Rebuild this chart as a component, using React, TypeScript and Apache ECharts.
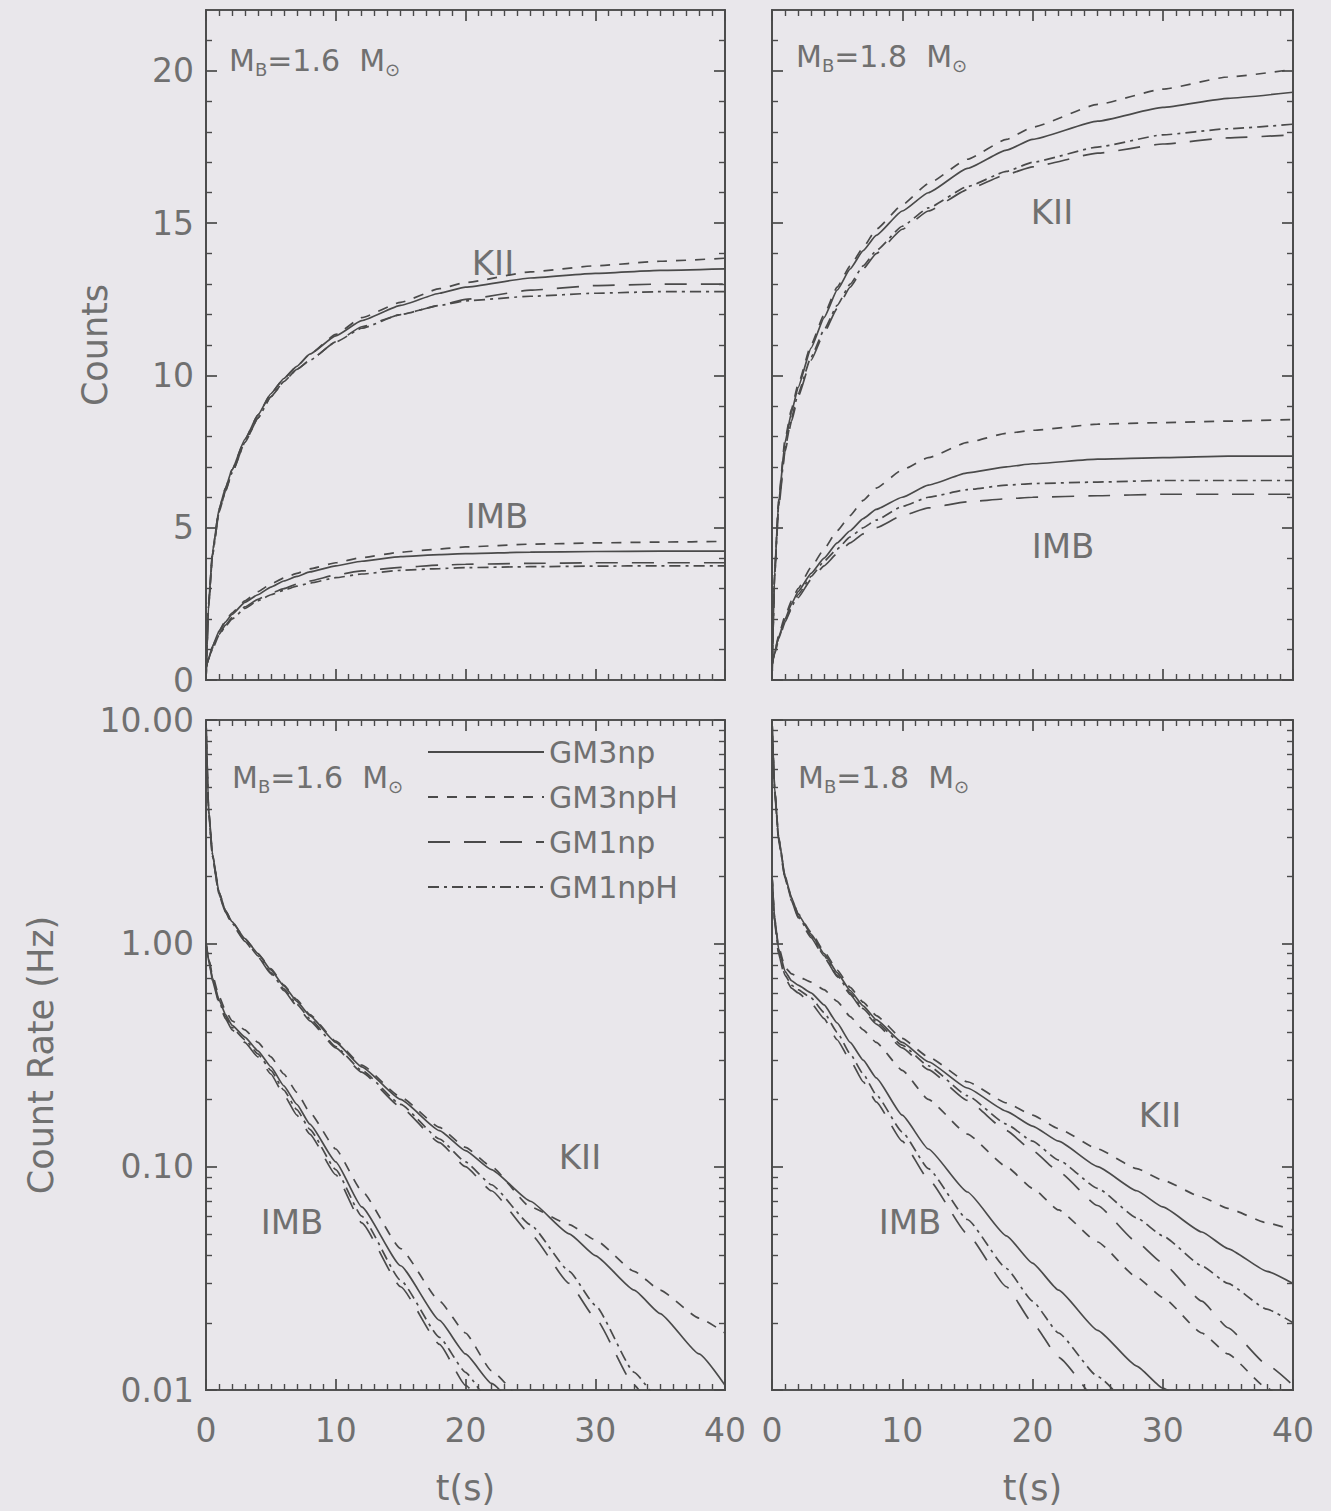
import React, { useEffect, useRef } from "react";
import * as echarts from "echarts";

// ---- time samples (s) ----
const T_COUNTS = [0, 0.2, 0.5, 1, 1.5, 2, 3, 4, 5, 6, 7, 8, 10, 12, 15, 18, 20, 25, 30, 35, 40];
const T_RATE = [0, 0.2, 0.5, 1, 1.5, 2, 3, 4, 5, 6, 7, 8, 10, 12, 15, 18, 20, 22, 25, 28, 30, 33, 35, 38, 40];

const MODELS = ["GM3np", "GM3npH", "GM1np", "GM1npH"];

// ---- cumulative counts, M_B = 1.6 ----
const KII16_GM3np = [0, 2.5, 4.2, 5.6, 6.3, 6.9, 7.9, 8.7, 9.4, 9.9, 10.3, 10.7, 11.3, 11.8, 12.3, 12.7, 12.9, 13.2, 13.35, 13.45, 13.5];
const KII16_GM3npH = [0, 2.5, 4.2, 5.6, 6.3, 6.9, 7.9, 8.7, 9.4, 9.9, 10.3, 10.7, 11.35, 11.9, 12.4, 12.85, 13.05, 13.4, 13.6, 13.75, 13.85];
const KII16_GM1np = [0, 2.4, 4.1, 5.5, 6.2, 6.8, 7.8, 8.6, 9.3, 9.8, 10.2, 10.5, 11.1, 11.6, 12.0, 12.3, 12.5, 12.8, 12.95, 13.0, 13.0];
const KII16_GM1npH = [0, 2.4, 4.1, 5.5, 6.2, 6.8, 7.8, 8.6, 9.3, 9.8, 10.2, 10.5, 11.1, 11.55, 12.0, 12.3, 12.45, 12.6, 12.7, 12.75, 12.75];

const IMB16_GM3np = [0.4, 0.7, 1.1, 1.6, 1.9, 2.15, 2.55, 2.8, 3.05, 3.25, 3.4, 3.55, 3.75, 3.9, 4.05, 4.12, 4.15, 4.2, 4.22, 4.23, 4.23];
const IMB16_GM3npH = [0.4, 0.7, 1.1, 1.6, 1.95, 2.2, 2.6, 2.9, 3.15, 3.35, 3.5, 3.65, 3.85, 4.02, 4.2, 4.3, 4.37, 4.46, 4.5, 4.53, 4.55];
const IMB16_GM1np = [0.4, 0.7, 1.05, 1.5, 1.8, 2.05, 2.4, 2.65, 2.85, 3.0, 3.15, 3.25, 3.45, 3.58, 3.7, 3.77, 3.8, 3.83, 3.85, 3.85, 3.85];
const IMB16_GM1npH = [0.4, 0.68, 1.02, 1.47, 1.76, 2.0, 2.35, 2.6, 2.8, 2.95, 3.08, 3.18, 3.36, 3.48, 3.6, 3.66, 3.69, 3.72, 3.74, 3.75, 3.75];

// ---- cumulative counts, M_B = 1.8 ----
const KII18_GM3np = [0, 3.5, 5.8, 7.8, 8.8, 9.6, 10.9, 11.9, 12.8, 13.5, 14.1, 14.6, 15.4, 16.0, 16.8, 17.4, 17.75, 18.35, 18.8, 19.1, 19.3];
const KII18_GM3npH = [0, 3.5, 5.9, 7.9, 8.9, 9.7, 11.0, 12.0, 12.9, 13.6, 14.2, 14.8, 15.6, 16.3, 17.1, 17.75, 18.15, 18.9, 19.4, 19.8, 20.05];
const KII18_GM1np = [0, 3.4, 5.6, 7.5, 8.5, 9.3, 10.5, 11.4, 12.2, 12.9, 13.5, 14.0, 14.8, 15.4, 16.1, 16.6, 16.85, 17.3, 17.6, 17.8, 17.9];
const KII18_GM1npH = [0, 3.4, 5.7, 7.6, 8.6, 9.4, 10.6, 11.5, 12.3, 13.0, 13.6, 14.1, 14.9, 15.5, 16.2, 16.7, 17.0, 17.5, 17.9, 18.1, 18.25];

const IMB18_GM3np = [0.5, 0.9, 1.4, 2.0, 2.5, 2.9, 3.5, 4.0, 4.5, 4.9, 5.3, 5.6, 6.0, 6.4, 6.8, 7.0, 7.1, 7.25, 7.3, 7.35, 7.35];
const IMB18_GM3npH = [0.5, 0.9, 1.45, 2.1, 2.6, 3.0, 3.7, 4.3, 4.9, 5.4, 5.9, 6.3, 6.9, 7.3, 7.8, 8.1, 8.2, 8.4, 8.45, 8.5, 8.55];
const IMB18_GM1np = [0.5, 0.85, 1.3, 1.9, 2.35, 2.7, 3.3, 3.75, 4.15, 4.5, 4.8, 5.0, 5.4, 5.65, 5.85, 5.95, 6.0, 6.05, 6.1, 6.1, 6.1];
const IMB18_GM1npH = [0.5, 0.9, 1.35, 1.95, 2.4, 2.8, 3.4, 3.9, 4.3, 4.7, 5.0, 5.25, 5.7, 6.0, 6.25, 6.4, 6.45, 6.5, 6.55, 6.55, 6.55];

// ---- count rate (Hz), M_B = 1.6 ----
const KIIR16_GM3np = [10, 4.0, 2.5, 1.7, 1.4, 1.25, 1.05, 0.9, 0.76, 0.645, 0.55, 0.475, 0.36, 0.28, 0.2, 0.145, 0.118, 0.097, 0.07, 0.05, 0.04, 0.028, 0.022, 0.0145, 0.0105];
const KIIR16_GM3npH = [10, 4.0, 2.5, 1.7, 1.4, 1.25, 1.05, 0.9, 0.77, 0.65, 0.56, 0.48, 0.365, 0.285, 0.205, 0.15, 0.122, 0.1, 0.066, 0.055, 0.047, 0.034, 0.028, 0.021, 0.018];
const KIIR16_GM1np = [10, 3.9, 2.45, 1.65, 1.38, 1.22, 1.02, 0.87, 0.73, 0.615, 0.525, 0.45, 0.34, 0.265, 0.185, 0.128, 0.1, 0.078, 0.05, 0.03, 0.021, 0.0105, 0.007, null, null];
const KIIR16_GM1npH = [10, 3.9, 2.45, 1.66, 1.39, 1.23, 1.03, 0.88, 0.74, 0.625, 0.535, 0.46, 0.345, 0.27, 0.19, 0.133, 0.105, 0.083, 0.055, 0.034, 0.024, 0.012, 0.0085, null, null];

const IMBR16_GM3np = [1.0, 0.85, 0.7, 0.56, 0.48, 0.43, 0.38, 0.33, 0.28, 0.23, 0.19, 0.155, 0.105, 0.066, 0.036, 0.0205, 0.0145, 0.0107, 0.0068, null, null, null, null, null, null];
const IMBR16_GM3npH = [1.0, 0.86, 0.72, 0.58, 0.5, 0.45, 0.41, 0.36, 0.31, 0.26, 0.215, 0.175, 0.12, 0.078, 0.043, 0.025, 0.018, 0.0122, 0.0078, null, null, null, null, null, null];
const IMBR16_GM1np = [1.0, 0.84, 0.68, 0.54, 0.46, 0.41, 0.36, 0.31, 0.26, 0.21, 0.17, 0.14, 0.092, 0.056, 0.029, 0.016, 0.0105, 0.0075, null, null, null, null, null, null, null];
const IMBR16_GM1npH = [1.0, 0.84, 0.69, 0.55, 0.47, 0.42, 0.37, 0.32, 0.27, 0.22, 0.18, 0.147, 0.097, 0.06, 0.031, 0.0172, 0.012, 0.0082, null, null, null, null, null, null, null];

// ---- count rate (Hz), M_B = 1.8 ----
const KIIR18_GM3np = [10, 5.0, 3.0, 2.0, 1.6, 1.35, 1.1, 0.9, 0.74, 0.615, 0.525, 0.455, 0.36, 0.295, 0.225, 0.177, 0.152, 0.13, 0.1, 0.078, 0.066, 0.051, 0.043, 0.034, 0.03];
const KIIR18_GM3npH = [10, 5.0, 3.0, 2.0, 1.6, 1.36, 1.12, 0.92, 0.76, 0.635, 0.545, 0.475, 0.375, 0.31, 0.24, 0.193, 0.17, 0.148, 0.12, 0.098, 0.087, 0.073, 0.065, 0.056, 0.052];
const KIIR18_GM1np = [10, 4.8, 2.9, 1.95, 1.55, 1.3, 1.06, 0.87, 0.71, 0.59, 0.5, 0.435, 0.34, 0.272, 0.198, 0.145, 0.118, 0.095, 0.067, 0.046, 0.037, 0.025, 0.019, 0.013, 0.0105];
const KIIR18_GM1npH = [10, 4.9, 2.95, 1.97, 1.57, 1.32, 1.08, 0.88, 0.72, 0.6, 0.51, 0.445, 0.35, 0.283, 0.208, 0.155, 0.13, 0.107, 0.08, 0.059, 0.049, 0.036, 0.03, 0.023, 0.02];

const IMBR18_GM3np = [2.0, 1.3, 0.95, 0.75, 0.68, 0.65, 0.6, 0.53, 0.44, 0.36, 0.3, 0.25, 0.17, 0.12, 0.077, 0.049, 0.037, 0.028, 0.0185, 0.0128, 0.0102, 0.0072, null, null, null];
const IMBR18_GM3npH = [2.0, 1.3, 0.97, 0.78, 0.73, 0.71, 0.67, 0.62, 0.55, 0.47, 0.41, 0.36, 0.27, 0.2, 0.14, 0.1, 0.08, 0.064, 0.046, 0.032, 0.026, 0.018, 0.0145, 0.0102, 0.008];
const IMBR18_GM1np = [2.0, 1.25, 0.9, 0.7, 0.63, 0.6, 0.54, 0.46, 0.37, 0.3, 0.24, 0.195, 0.13, 0.088, 0.05, 0.029, 0.02, 0.014, 0.0085, null, null, null, null, null, null];
const IMBR18_GM1npH = [2.0, 1.27, 0.92, 0.72, 0.65, 0.62, 0.57, 0.49, 0.4, 0.32, 0.26, 0.21, 0.143, 0.098, 0.058, 0.035, 0.025, 0.018, 0.0115, 0.0076, null, null, null, null, null];

// ---- axis ticks ----
const T_TICKS = [0, 10, 20, 30, 40];
const T_MINOR_TICKS = [
  1, 2, 3, 4, 5, 6, 7, 8, 9, 11, 12, 13, 14, 15, 16, 17, 18, 19,
  21, 22, 23, 24, 25, 26, 27, 28, 29, 31, 32, 33, 34, 35, 36, 37, 38, 39,
];
const COUNT_TICKS = [0, 5, 10, 15, 20];
const COUNT_MINOR_TICKS = [1, 2, 3, 4, 6, 7, 8, 9, 11, 12, 13, 14, 16, 17, 18, 19, 21];
const RATE_TICKS = [0.01, 0.1, 1, 10];
const RATE_MINOR_TICKS = [
  0.02, 0.03, 0.04, 0.05, 0.06, 0.07, 0.08, 0.09,
  0.2, 0.3, 0.4, 0.5, 0.6, 0.7, 0.8, 0.9,
  2, 3, 4, 5, 6, 7, 8, 9,
];

// ---- look ----
const FONT = "'DejaVu Sans', 'Liberation Sans', sans-serif";
const INK = "#4a4a4a";
const TEXT = "#707070";
const BG = "#e9e7eb";
const DASH: any[] = ["solid", [10, 9], [22, 14], [11, 5, 3, 5]];

const GRIDS = [
  { left: 206, top: 10, width: 519, height: 670 },
  { left: 772, top: 10, width: 521, height: 670 },
  { left: 206, top: 720, width: 519, height: 670 },
  { left: 772, top: 720, width: 521, height: 670 },
];

const PANELS = [
  { t: T_COUNTS, log: false, groups: [[KII16_GM3np, KII16_GM3npH, KII16_GM1np, KII16_GM1npH], [IMB16_GM3np, IMB16_GM3npH, IMB16_GM1np, IMB16_GM1npH]] },
  { t: T_COUNTS, log: false, groups: [[KII18_GM3np, KII18_GM3npH, KII18_GM1np, KII18_GM1npH], [IMB18_GM3np, IMB18_GM3npH, IMB18_GM1np, IMB18_GM1npH]] },
  { t: T_RATE, log: true, groups: [[KIIR16_GM3np, KIIR16_GM3npH, KIIR16_GM1np, KIIR16_GM1npH], [IMBR16_GM3np, IMBR16_GM3npH, IMBR16_GM1np, IMBR16_GM1npH]] },
  { t: T_RATE, log: true, groups: [[KIIR18_GM3np, KIIR18_GM3npH, KIIR18_GM1np, KIIR18_GM1npH], [IMBR18_GM3np, IMBR18_GM3npH, IMBR18_GM1np, IMBR18_GM1npH]] },
];

// panel annotations (pixel anchors)
const DETECTOR_LABELS = [
  { text: "KII", x: 493, y: 263 },
  { text: "IMB", x: 497, y: 516 },
  { text: "KII", x: 1052, y: 212 },
  { text: "IMB", x: 1063, y: 546 },
  { text: "KII", x: 580, y: 1157 },
  { text: "IMB", x: 292, y: 1222 },
  { text: "KII", x: 1160, y: 1115 },
  { text: "IMB", x: 910, y: 1222 },
];
const MASS_LABELS = [
  { mass: "1.6", x: 229, y: 60 },
  { mass: "1.8", x: 796, y: 56 },
  { mass: "1.6", x: 232, y: 777 },
  { mass: "1.8", x: 798, y: 777 },
];

const line = { color: INK, width: 1.7 };
const minorLine = { color: INK, width: 1.4 };
const tickLabel = { color: TEXT, fontSize: 33, fontFamily: FONT };
const noSplit = { show: false };

// x axes of one panel: labelled/unlabelled bottom, plain top, plus two minor-tick layers
function xAxes(gi: number, labels: boolean) {
  const base = {
    type: "value",
    gridIndex: gi,
    min: 0,
    max: 40,
    interval: 10,
    splitLine: noSplit,
    axisLine: { show: true, onZero: false, lineStyle: line },
  };
  const major = { show: true, inside: true, length: 11, lineStyle: line, customValues: T_TICKS };
  const minor = { show: true, inside: true, length: 6, lineStyle: minorLine, customValues: T_MINOR_TICKS };
  return [
    {
      ...base,
      position: "bottom",
      axisTick: major,
      axisLabel: { show: labels, ...tickLabel, margin: 24, customValues: T_TICKS },
      name: labels ? "t(s)" : "",
      nameLocation: "middle",
      nameGap: 80,
      nameTextStyle: { color: TEXT, fontSize: 35, fontFamily: FONT },
    },
    { ...base, position: "top", axisTick: major, axisLabel: { show: false } },
    { ...base, position: "bottom", axisTick: minor, axisLabel: { show: false } },
    { ...base, position: "top", axisTick: minor, axisLabel: { show: false } },
  ];
}

// y axes of one panel: left (labelled on the left column), right, plus minor-tick layers
function yAxes(gi: number, log: boolean, labels: boolean, name: string, nameGap: number) {
  const base: any = log
    ? { type: "log", logBase: 10, min: 0.01, max: 10 }
    : { type: "value", min: 0, max: 22, interval: 5 };
  const majorVals = log ? RATE_TICKS : COUNT_TICKS;
  const minorVals = log ? RATE_MINOR_TICKS : COUNT_MINOR_TICKS;
  const common = {
    ...base,
    gridIndex: gi,
    splitLine: noSplit,
    axisLine: { show: true, onZero: false, lineStyle: line },
  };
  const major = { show: true, inside: true, length: 11, lineStyle: line, customValues: majorVals };
  const minor = { show: true, inside: true, length: 6, lineStyle: minorLine, customValues: minorVals };
  return [
    {
      ...common,
      position: "left",
      axisTick: major,
      axisLabel: {
        show: labels,
        ...tickLabel,
        margin: 12,
        customValues: majorVals,
        formatter: (v: number) => (log ? Number(v).toFixed(2) : String(v)),
      },
      name,
      nameLocation: "middle",
      nameRotate: 90,
      nameGap,
      nameMoveOverlap: false,
      nameTextStyle: { color: TEXT, fontSize: 35, fontFamily: FONT },
    },
    { ...common, position: "right", axisTick: major, axisLabel: { show: false } },
    { ...common, position: "left", axisTick: minor, axisLabel: { show: false } },
    { ...common, position: "right", axisTick: minor, axisLabel: { show: false } },
  ];
}

function buildOption() {
  const xAxis = [
    ...xAxes(0, false),
    ...xAxes(1, false),
    ...xAxes(2, true),
    ...xAxes(3, true),
  ];
  const yAxis = [
    ...yAxes(0, false, true, "Counts", 94),
    ...yAxes(1, false, false, "", 0),
    ...yAxes(2, true, true, "Count Rate (Hz)", 148),
    ...yAxes(3, true, false, "", 0),
  ];

  const series: any[] = [];
  PANELS.forEach((p, gi) => {
    p.groups.forEach((group) => {
      group.forEach((vals, m) => {
        const data: number[][] = [];
        p.t.forEach((tt, i) => {
          const v = vals[i];
          if (v !== null && v !== undefined) data.push([tt, v]);
        });
        series.push({
          type: "line",
          name: MODELS[m],
          xAxisIndex: gi * 4,
          yAxisIndex: gi * 4,
          data,
          symbol: "none",
          showSymbol: false,
          smooth: 0.15,
          smoothMonotone: "x",
          clip: true,
          silent: true,
          emphasis: { disabled: true },
          lineStyle: { color: INK, width: 1.7, type: DASH[m] },
          itemStyle: { color: INK },
        });
      });
    });
  });

  const graphic: any[] = [];
  DETECTOR_LABELS.forEach((d) => {
    graphic.push({
      type: "text",
      x: d.x,
      y: d.y,
      silent: true,
      style: {
        text: d.text,
        fill: TEXT,
        fontSize: 34,
        fontFamily: FONT,
        align: "center",
        verticalAlign: "middle",
      },
    });
  });
  MASS_LABELS.forEach((d) => {
    graphic.push({
      type: "text",
      x: d.x,
      y: d.y,
      silent: true,
      style: {
        text: `{m|M}{s|B}{m|=${d.mass}  M}{s|\u2299}`,
        fill: TEXT,
        fontFamily: FONT,
        fontSize: 30,
        align: "left",
        verticalAlign: "middle",
        rich: {
          m: { fontSize: 30, fontFamily: FONT, fill: TEXT, lineHeight: 36 },
          s: { fontSize: 18, fontFamily: FONT, fill: TEXT, lineHeight: 12, verticalAlign: "bottom" },
        },
      },
    });
  });

  return {
    animation: false,
    backgroundColor: BG,
    textStyle: { fontFamily: FONT },
    grid: GRIDS.map((g) => ({ ...g, containLabel: false, outerBoundsMode: "none" })),
    xAxis,
    yAxis,
    legend: {
      data: MODELS,
      orient: "vertical",
      left: 427,
      top: 737,
      padding: 0,
      itemWidth: 116,
      itemHeight: 14,
      itemGap: 15,
      selectedMode: false,
      itemStyle: { opacity: 0 },
      textStyle: { color: TEXT, fontSize: 30, fontFamily: FONT },
    },
    series,
    graphic,
  };
}

export default function App() {
  const ref = useRef<HTMLDivElement>(null);
  useEffect(() => {
    if (!ref.current) return;
    const chart = echarts.init(ref.current, undefined, { renderer: "svg" });
    chart.setOption(buildOption() as any);
    return () => chart.dispose();
  }, []);
  return (
    <div
      ref={ref}
      style={{ position: "absolute", left: 0, top: 0, width: 1331, height: 1511, background: BG }}
    />
  );
}
